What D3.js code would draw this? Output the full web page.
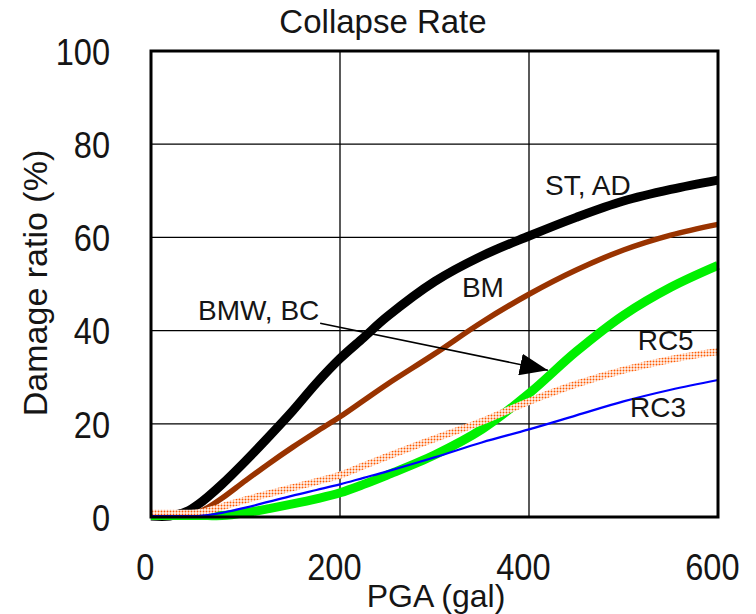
<!DOCTYPE html>
<html>
<head>
<meta charset="utf-8">
<script src="https://cdn.jsdelivr.net/npm/d3@7"></script>
<style>
    body { margin: 0; background: #fff; }
    text { font-family: "Liberation Sans", Arial, sans-serif; fill: #151515; }
</style>
</head>
<body>
<div id="chart"></div>
<script>
// PGA (gal) sample points, shared by every curve
const pga = [0, 20, 40, 50, 60, 75, 100, 125, 150, 175, 200, 225, 250, 300, 350, 400, 450, 500, 550, 600];

// damage ratio (%)
const stAd  = [0.2, 0.2, 1.4, 2.7, 4.3, 7, 12, 17.3, 22.8, 28.7, 34, 38.5, 43, 50.5, 56, 60.3, 64.3, 67.8, 70.3, 72.3];
const bm    = [0.2, 0.2, 0.4, 1, 2, 4, 7.8, 11.5, 15, 18.3, 21.5, 25, 28.5, 35, 41.8, 47.8, 53, 57.3, 60.5, 62.8];
const bmwBc = [0.3, 0.3, 0.3, 0.3, 0.3, 0.3, 0.9, 1.8, 2.8, 3.9, 5.2, 7, 9, 13.3, 18.8, 26.5, 35.5, 43.3, 49.3, 54];
const rc5   = [0.8, 0.8, 0.8, 0.9, 1.3, 2.2, 3.7, 5, 6.3, 7.6, 9, 11, 13, 16.8, 20.5, 24.8, 28.5, 31.5, 33.8, 35.5];
const rc3   = [0.2, 0.2, 0.2, 0.2, 0.4, 0.9, 2, 3.3, 4.6, 5.8, 7, 8.4, 9.8, 12.8, 16, 18.8, 21.8, 24.8, 27.3, 29.4];

const xTicks = [0, 200, 400, 600];
const yTicks = [0, 20, 40, 60, 80, 100];

// curve labels, in data units (x = PGA, y = ratio at text baseline)
const labels = [
    { text: "ST, AD", x: 417, y: 69.1 },
    { text: "BM", x: 329, y: 47.2 },
    { text: "BMW, BC", x: 49.7, y: 42.3 },
    { text: "RC5", x: 515, y: 35.8 },
    { text: "RC3", x: 507, y: 21.5 }
];
const arrowFrom = [179, 41.6];
const arrowTo = [420, 31.5];

const margin = { top: 51, right: 38, bottom: 97, left: 151 };
const totalW = 756, totalH = 614;
const width = totalW - margin.left - margin.right;
const height = totalH - margin.top - margin.bottom;

const svg = d3.select("#chart")
    .append("svg")
    .attr("width", totalW)
    .attr("height", totalH);

const defs = svg.append("defs");

// dotted orange fill for RC5
const dots = defs.append("pattern")
    .attr("id", "dots")
    .attr("patternUnits", "userSpaceOnUse")
    .attr("width", 3)
    .attr("height", 3);
dots.append("rect").attr("width", 3).attr("height", 3).attr("fill", "#fff4ee");
dots.append("circle").attr("cx", 1.5).attr("cy", 1.5).attr("r", 0.95).attr("fill", "#ff5a00");

defs.append("marker")
    .attr("id", "head")
    .attr("viewBox", "0 0 28 22")
    .attr("refX", 28)
    .attr("refY", 11)
    .attr("markerWidth", 28)
    .attr("markerHeight", 22)
    .attr("markerUnits", "userSpaceOnUse")
    .attr("orient", "auto")
    .append("path")
    .attr("d", "M0,0 L28,11 L0,22 Z")
    .attr("fill", "#000");

const g = svg.append("g")
    .attr("transform", `translate(${margin.left},${margin.top})`);

const x = d3.scaleLinear().domain([0, 600]).range([0, width]);
const y = d3.scaleLinear().domain([0, 100]).range([height, 0]);

// grid
g.append("g").selectAll("line")
    .data(xTicks.slice(1, -1))
    .join("line")
    .attr("x1", d => x(d)).attr("x2", d => x(d))
    .attr("y1", 0).attr("y2", height)
    .attr("stroke", "#000").attr("stroke-width", 1.3);

g.append("g").selectAll("line")
    .data(yTicks.slice(1, -1))
    .join("line")
    .attr("y1", d => y(d)).attr("y2", d => y(d))
    .attr("x1", 0).attr("x2", width)
    .attr("stroke", "#000").attr("stroke-width", 1.3);

// axes (labels only)
const xAxis = g.append("g")
    .attr("transform", `translate(0,${height})`)
    .call(d3.axisBottom(x).tickValues(xTicks).tickSize(0).tickPadding(0));
xAxis.select(".domain").remove();
xAxis.selectAll("text")
    .attr("font-size", 37)
    .attr("font-family", "Liberation Sans, Arial, sans-serif")
    .attr("fill", "#151515")
    .attr("dy", 0)
    .attr("y", 63)
    .attr("x", -7)
    .attr("transform", "scale(0.88,1)");

const yAxis = g.append("g")
    .call(d3.axisLeft(y).tickValues(yTicks).tickSize(0).tickPadding(0));
yAxis.select(".domain").remove();
yAxis.selectAll("text")
    .attr("font-size", 37)
    .attr("font-family", "Liberation Sans, Arial, sans-serif")
    .attr("fill", "#151515")
    .attr("dy", "0.36em")
    .attr("x", -41 / 0.88)
    .attr("transform", "scale(0.88,1)");

// curves, bottom to top
const line = d3.line()
    .x((d, i) => x(pga[i]))
    .y(d => y(d))
    .curve(d3.curveCatmullRom.alpha(0.5));

const series = [
    { values: stAd, color: "#000", width: 9 },
    { values: bm, color: "#993300", width: 5.5 },
    { values: bmwBc, color: "#00f000", width: 9 },
    { values: rc5, color: "url(#dots)", width: 7 },
    { values: rc3, color: "#0000ff", width: 2.2 }
];

g.append("g").selectAll("path")
    .data(series)
    .join("path")
    .attr("d", d => line(d.values))
    .attr("fill", "none")
    .attr("stroke", d => d.color)
    .attr("stroke-width", d => d.width);

// arrow from BMW, BC label
g.append("line")
    .attr("x1", x(arrowFrom[0])).attr("y1", y(arrowFrom[1]))
    .attr("x2", x(arrowTo[0])).attr("y2", y(arrowTo[1]))
    .attr("stroke", "#000")
    .attr("stroke-width", 1.5)
    .attr("marker-end", "url(#head)");

// frame
g.append("rect")
    .attr("width", width)
    .attr("height", height)
    .attr("fill", "none")
    .attr("stroke", "#000")
    .attr("stroke-width", 3);

// curve labels
g.append("g").selectAll("text")
    .data(labels)
    .join("text")
    .attr("x", d => x(d.x))
    .attr("y", d => y(d.y))
    .attr("font-size", 28)
    .text(d => d.text);

// titles
svg.append("text")
    .attr("x", 383)
    .attr("y", 33)
    .attr("text-anchor", "middle")
    .attr("font-size", 33)
    .text("Collapse Rate");

svg.append("text")
    .attr("x", 436)
    .attr("y", 607)
    .attr("text-anchor", "middle")
    .attr("font-size", 32)
    .text("PGA (gal)");

svg.append("text")
    .attr("transform", "translate(47,283) rotate(-90)")
    .attr("text-anchor", "middle")
    .attr("font-size", 34)
    .text("Damage ratio (%)");
</script>
</body>
</html>
